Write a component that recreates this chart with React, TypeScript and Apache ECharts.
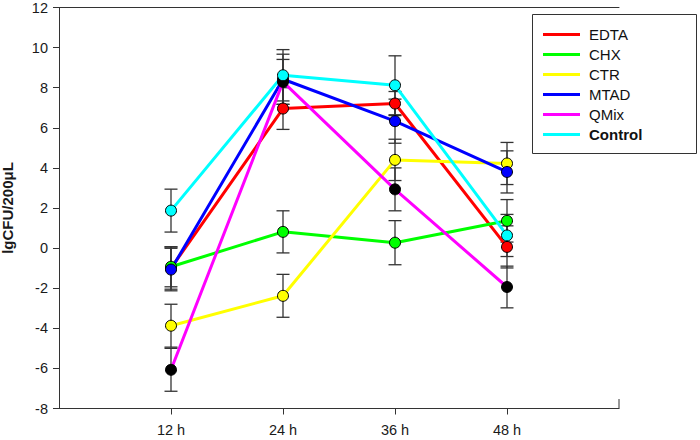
import React, { useEffect, useRef } from "react";
import * as echarts from "echarts";

const hours = [12, 24, 36, 48];
const seriesNames = ["EDTA", "CHX", "CTR", "MTAD", "QMix", "Control"];
const edta = [-1.0, 6.96, 7.21, 0.06];
const edtaErr = [1.05, 1.04, 0.6, 1.05];
const chx = [-0.93, 0.81, 0.27, 1.36];
const chxErr = [1.0, 1.05, 1.1, 1.06];
const ctr = [-3.87, -2.38, 4.4, 4.22];
const ctrErr = [1.07, 1.07, 1.03, 1.05];
const mtad = [-1.07, 8.42, 6.33, 3.8];
const mtadErr = [1.06, 1.25, 1.1, 1.05];
const qmix = [-6.07, 8.29, 2.93, -1.94];
const qmixErr = [1.07, 1.12, 1.07, 1.04];
const control = [1.87, 8.62, 8.12, 0.63];
const controlErr = [1.07, 1.28, 1.47, 1.05];
const lineColors = ["#ff0000", "#00ff00", "#ffff00", "#0000ff", "#ff00ff", "#00ffff"];
const markerColors = ["#ff0000", "#00ff00", "#ffff00", "#0000ff", "#000000", "#00ffff"];
const yMin = -8;
const yMax = 12;
const yStep = 2;
const xMin = 0;
const xMax = 60;

const values = [edta, chx, ctr, mtad, qmix, control];
const errors = [edtaErr, chxErr, ctrErr, mtadErr, qmixErr, controlErr];

const FONT = "'Liberation Sans', Arial, sans-serif";

export default function App() {
  const ref = useRef<HTMLDivElement>(null);
  useEffect(() => {
    document.body.style.margin = "0";
    const chart = echarts.init(ref.current!, null, { renderer: "svg" });
    const errSeries = values.map((vals, i) => ({
      type: "custom",
      name: seriesNames[i] + " error",
      z: 1,
      encode: { x: 0, y: 1 },
      data: hours.map((h, j) => [h, vals[j], errors[i][j]]),
      renderItem: (params: any, api: any) => {
        const x = api.value(0);
        const v = api.value(1);
        const e = api.value(2);
        const top = api.coord([x, v + e]);
        const bot = api.coord([x, v - e]);
        const hw = 6.5;
        const style = { stroke: "#333333", lineWidth: 1.3 };
        return {
          type: "group",
          children: [
            { type: "line", shape: { x1: top[0], y1: top[1], x2: bot[0], y2: bot[1] }, style },
            { type: "line", shape: { x1: top[0] - hw, y1: top[1], x2: top[0] + hw, y2: top[1] }, style },
            { type: "line", shape: { x1: bot[0] - hw, y1: bot[1], x2: bot[0] + hw, y2: bot[1] }, style },
          ],
        };
      },
    }));
    const lineSeries = values.map((vals, i) => ({
      type: "line",
      name: seriesNames[i],
      z: 2,
      data: hours.map((h, j) => [h, vals[j]]),
      symbol: "circle",
      symbolSize: 11,
      lineStyle: { color: lineColors[i], width: 3 },
      itemStyle: { color: markerColors[i], borderColor: "#000000", borderWidth: 1 },
    }));
    chart.setOption({
      animation: false,
      grid: { left: 59, top: 7.5, width: 560, height: 401, containLabel: false, outerBoundsMode: "none" },
      xAxis: [
        {
          type: "value",
          min: xMin,
          max: xMax,
          splitLine: { show: false },
          axisLine: { show: true, onZero: false, lineStyle: { color: "#333333", width: 1 } },
          axisTick: { show: true, customValues: hours, length: 6, lineStyle: { color: "#333333" } },
          axisLabel: {
            customValues: hours,
            formatter: (v: number) => v + " h",
            margin: 14,
            fontSize: 14.5,
            color: "#1a1a1a",
            fontFamily: FONT,
          },
        },
        {
          type: "value",
          position: "top",
          min: xMin,
          max: xMax,
          splitLine: { show: false },
          axisLine: { show: true, onZero: false, lineStyle: { color: "#333333", width: 1 } },
          axisTick: { show: false },
          axisLabel: { show: false },
        },
      ],
      yAxis: {
        type: "value",
        min: yMin,
        max: yMax,
        interval: yStep,
        name: "lgCFU/200μL",
        nameLocation: "middle",
        nameGap: 44,
        nameTextStyle: { fontSize: 15, fontWeight: "bold", color: "#1a1a1a", fontFamily: FONT },
        splitLine: { show: false },
        axisLine: { show: true, onZero: false, lineStyle: { color: "#333333", width: 1 } },
        axisTick: { show: true, length: 6, lineStyle: { color: "#333333" } },
        axisLabel: { margin: 11, fontSize: 14.5, color: "#1a1a1a", fontFamily: FONT },
      },
      legend: {
        orient: "vertical",
        left: 543,
        top: 27,
        padding: 0,
        z: 10,
        itemWidth: 37,
        itemHeight: 14,
        itemGap: 5,
        icon: "path://M0,0L37,0L37,3L0,3Z",
        selectedMode: false,
        textStyle: {
          fontSize: 15,
          color: "#111111",
          fontFamily: FONT,
          padding: [0, 0, 0, 4],
          rich: { b: { fontSize: 15, fontWeight: "bold", fontFamily: FONT, color: "#111111" } },
        },
        formatter: (name: string) => (name === "Control" ? "{b|" + name + "}" : name),
        data: seriesNames.map((n, i) => ({
          name: n,
          itemStyle: { color: lineColors[i], borderWidth: 0 },
        })),
      },
      graphic: [
        {
          type: "rect",
          z: 3,
          shape: { x: 532.5, y: 14.5, width: 164, height: 139 },
          style: { fill: "#ffffff", stroke: "#333333", lineWidth: 1 },
        },
        {
          type: "line",
          z: 3,
          shape: { x1: 619, y1: 408.5, x2: 619, y2: 399 },
          style: { stroke: "#333333", lineWidth: 1 },
        },
      ],
      series: [...errSeries, ...lineSeries],
    });
    return () => chart.dispose();
  }, []);
  return <div ref={ref} style={{ width: 700, height: 440 }} />;
}
